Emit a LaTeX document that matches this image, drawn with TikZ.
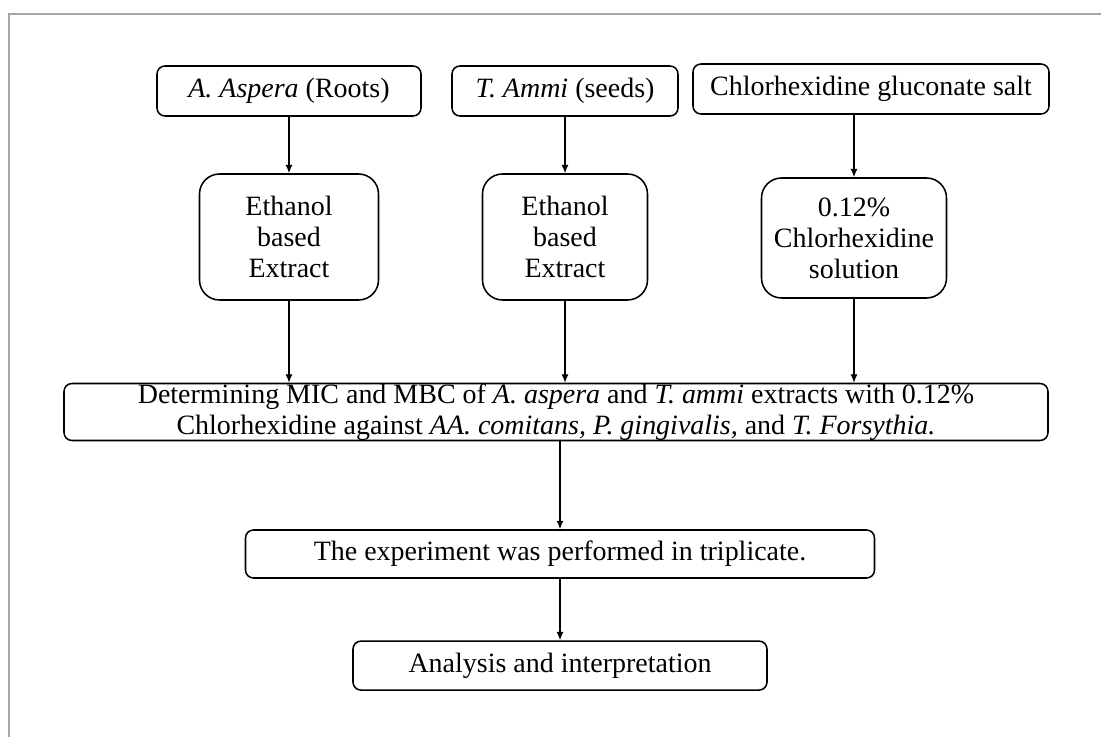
\documentclass[tikz,border=0pt]{standalone}
\usepackage{fontspec}
\setmainfont{Liberation Serif}
\usetikzlibrary{arrows.meta}
\definecolor{framegray}{HTML}{A6A6A6}

\begin{document}
\begin{tikzpicture}[
    box/.style={draw, line width=1.1pt, rounded corners=0.2cm, align=center, inner sep=0pt},
    tallbox/.style={box, rounded corners=0.5cm},
    flow/.style={-{Latex[length=6pt, width=5pt]}, line width=0.9pt},
    font=\fontsize{19.9}{22}\selectfont
  ]
  \useasboundingbox (0, 0) rectangle (27.525, -18.425);

  % frame
  \draw[line width=1.4pt, framegray] (27.525, -0.35) -- (0.225, -0.35) -- (0.225, -18.425);

  % sources
  \node[box, minimum width=6.6cm, minimum height=1.25cm] (aspera) at (7.225, -2.275) {\textit{A. Aspera} (Roots)};
  \node[box, minimum width=5.65cm, minimum height=1.25cm] (ammi) at (14.125, -2.275) {\textit{T. Ammi} (seeds)};
  \node[box, minimum width=8.9cm, minimum height=1.25cm] (chx) at (21.775, -2.225) {Chlorhexidine gluconate salt};

  % preparations
  \node[tallbox, minimum width=4.475cm, minimum height=3.15cm] (asperaext) at (7.225, -5.925) {Ethanol\\based\\Extract};
  \node[tallbox, minimum width=4.125cm, minimum height=3.15cm] (ammiext) at (14.125, -5.925) {Ethanol\\based\\Extract};
  \node[tallbox, minimum width=4.625cm, minimum height=3.0cm] (chxsol) at (21.35, -5.95) {0.12\%\\Chlorhexidine\\solution};

  % tests
  \node[box, minimum width=24.6cm, minimum height=1.425cm] (mic) at (13.9, -10.3)
    {Determining MIC and MBC of \textit{A. aspera} and \textit{T. ammi} extracts with 0.12\%\\
     Chlorhexidine against \textit{AA. comitans, P. gingivalis,} and \textit{T. Forsythia.}};
  \node[box, minimum width=15.725cm, minimum height=1.2cm] (trip) at (14.0, -13.85) {The experiment was performed in triplicate.};
  \node[box, minimum width=10.35cm, minimum height=1.225cm] (anal) at (14.0, -16.64) {Analysis and interpretation};

  \draw[flow] (aspera) -- (asperaext);
  \draw[flow] (ammi) -- (ammiext);
  \draw[flow] (chx.south -| chxsol) -- (chxsol);
  \foreach \n in {asperaext, ammiext, chxsol}
    \draw[flow] (\n) -- (\n |- mic.north);
  \draw[flow] (mic.south -| trip) -- (trip);
  \draw[flow] (trip) -- (anal);
\end{tikzpicture}
\end{document}
